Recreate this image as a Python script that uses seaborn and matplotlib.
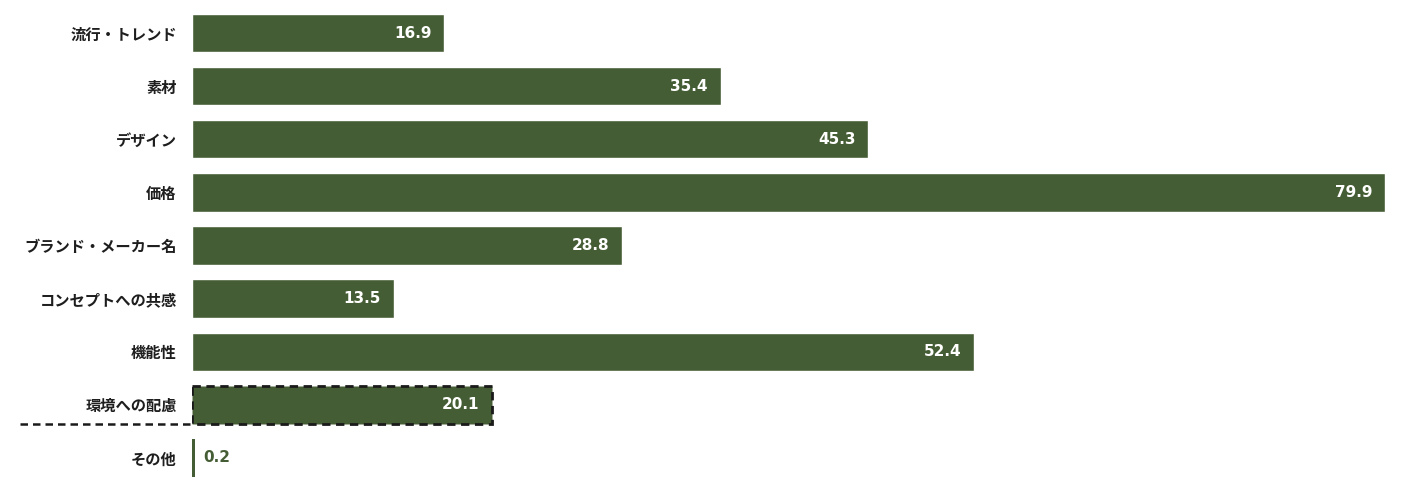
import pandas as pd
import numpy as np
import seaborn as sns
import matplotlib.pyplot as plt
import matplotlib.transforms as mtransforms

categories = ["流行・トレンド", "素材", "デザイン", "価格", "ブランド・メーカー名",
              "コンセプトへの共感", "機能性", "環境への配慮", "その他"]
values = [16.9, 35.4, 45.3, 79.9, 28.8, 13.5, 52.4, 20.1, 0.2]
highlight = "環境への配慮"

bar_color = "#455d34"

sns.set_theme(style="white")
plt.rcParams['font.family'] = ['Noto Sans CJK JP', 'DejaVu Sans']

data = pd.DataFrame({"item": categories, "value": values})

fig = plt.figure(figsize=(14.1, 4.86), dpi=100)
ax = fig.add_axes([192 / 1410, 1.5 / 486, (1385 - 192) / 1410, (486 - 8) / 486])
sns.barplot(data=data, x="value", y="item", orient="h", color=bar_color,
            saturation=1, width=0.72, ax=ax)

ax.set_xlim(0, max(values))
ax.set_ylim(len(categories) - 0.5, -0.5)
ax.set_xlabel("")
ax.set_ylabel("")
ax.set_xticks([])
ax.tick_params(axis="y", length=0, pad=11)
for lab in ax.get_yticklabels():
    lab.set_fontweight("bold")
    lab.set_fontsize(11)
    lab.set_color("#1e1e1e")
for s in ax.spines.values():
    s.set_visible(False)

# dashed edge for the highlighted bar, shorter thin bar for tiny value
for patch, cat, val in zip(ax.patches, categories, values):
    if cat == highlight:
        patch.set_edgecolor("#1a1a1a")
        patch.set_linestyle((0, (3, 2)))
        patch.set_linewidth(2)
    if val < 1:
        patch.set_width(0.2)
        patch.set_linewidth(0)

for i, (cat, val) in enumerate(zip(categories, values)):
    if val < 1:
        ax.text(0.75, i, f"{val}", va="center", ha="left", color=bar_color,
                fontsize=11, fontweight="bold", family=['DejaVu Sans'])
    else:
        ax.text(val - 0.85, i, f"{val}", va="center", ha="right", color="white",
                fontsize=11, fontweight="bold", family=['DejaVu Sans'])

# dashed separator under the highlighted label, level with the bar bottom
hi = categories.index(highlight)
trans = mtransforms.blended_transform_factory(ax.transAxes, ax.transData)
ax.plot([-172 / 1193, -2 / 1193], [hi + 0.37, hi + 0.37], transform=trans,
        color="#1a1a1a", linestyle=(0, (3, 2)), linewidth=1.8, clip_on=False)

fig.savefig("out.png", dpi=100)
